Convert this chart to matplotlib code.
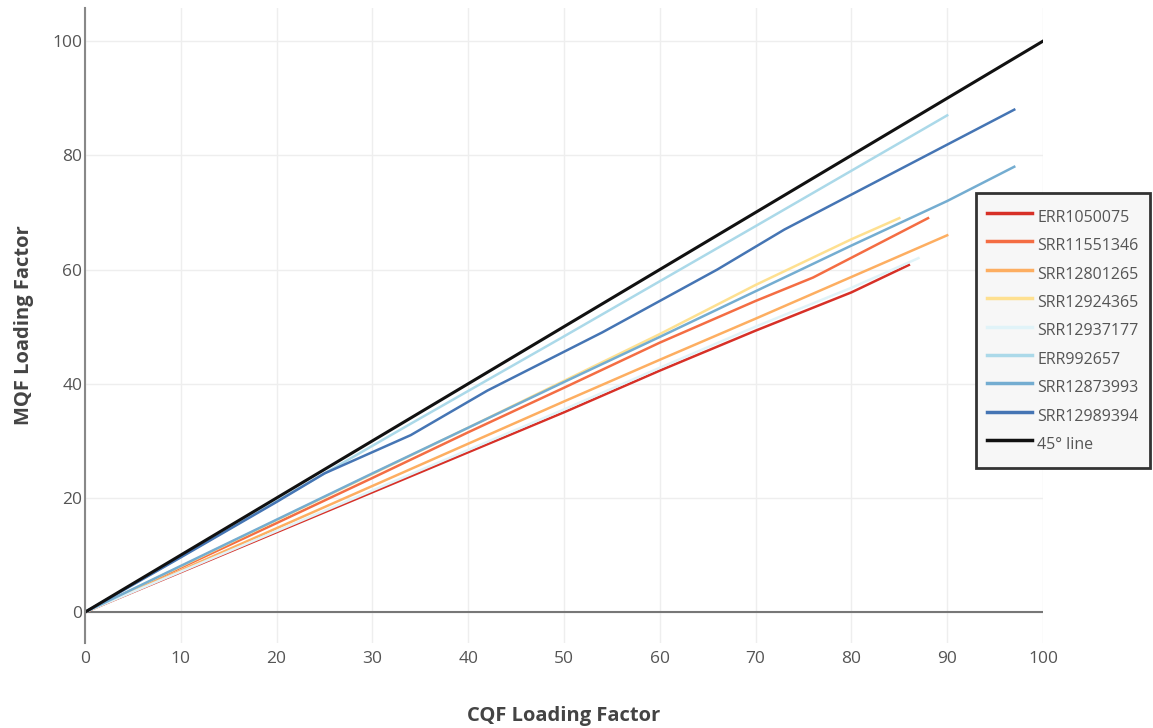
import numpy as np
import matplotlib.pyplot as plt

# =========================
# Data: MQF vs CQF loading factor per run
# =========================
names = ["ERR1050075", "SRR11551346", "SRR12801265", "SRR12924365",
         "SRR12937177", "ERR992657", "SRR12873993", "SRR12989394"]
colors = ["#d73027", "#f46d43", "#fdae61", "#fee090",
          "#e0f3f8", "#abd9e9", "#74add1", "#4575b4"]

err1050075_x = [0, 10, 20, 30, 40, 50, 60, 70, 80, 86]
err1050075_y = [0, 7, 14, 21, 28, 35, 42.3, 49.3, 56, 60.8]

srr11551346_x = [0, 10, 20, 30, 40, 50, 60, 70, 76, 88]
srr11551346_y = [0, 7.8, 15.6, 23.5, 31.5, 39.3, 47.2, 54.5, 58.6, 69]

srr12801265_x = [0, 10, 20, 30, 40, 50, 60, 70, 80, 90]
srr12801265_y = [0, 7.3, 14.7, 22.1, 29.5, 36.9, 44.2, 51.4, 58.7, 66]

srr12924365_x = [0, 10, 20, 30, 40, 50, 60, 70, 80, 85]
srr12924365_y = [0, 8, 16.1, 24.2, 32.3, 40.5, 48.7, 57.3, 65.3, 69]

srr12937177_x = [0, 10, 20, 30, 40, 50, 60, 70, 80, 87]
srr12937177_y = [0, 7.1, 14.2, 21.3, 28.4, 35.5, 42.8, 50, 56.8, 62]

err992657_x = [0, 10, 25, 34, 50, 70, 90]
err992657_y = [0, 9.7, 24.3, 33, 48.3, 67.6, 87]

srr12873993_x = [0, 10, 20, 30, 40, 50, 60, 70, 80, 90, 97]
srr12873993_y = [0, 8.1, 16.2, 24.3, 32.3, 40.3, 48.2, 56.2, 64.2, 72, 78]

srr12989394_x = [0, 10, 20, 25, 34, 42, 54, 66, 73, 97]
srr12989394_y = [0, 9.6, 19.3, 24.3, 31, 38.8, 49, 60, 67, 88]

series_x = [err1050075_x, srr11551346_x, srr12801265_x, srr12924365_x,
            srr12937177_x, err992657_x, srr12873993_x, srr12989394_x]
series_y = [err1050075_y, srr11551346_y, srr12801265_y, srr12924365_y,
            srr12937177_y, err992657_y, srr12873993_y, srr12989394_y]

ref_x = [0, 100]
ref_y = [0, 100]

xticks = [0, 10, 20, 30, 40, 50, 60, 70, 80, 90, 100]
yticks = [0, 20, 40, 60, 80, 100]

# =========================
# Figure
# =========================
plt.rcParams["font.family"] = ["Open Sans", "DejaVu Sans"]

fig = plt.figure(figsize=(11.53, 7.28), dpi=100)
ax = fig.add_axes([85 / 1153, 85 / 728, 958 / 1153, 635 / 728])

for xs, ys, name, c in zip(series_x, series_y, names, colors):
    ax.plot(xs, ys, color=c, lw=1.8, label=name, solid_joinstyle="round")

ax.plot(ref_x, ref_y, color="#111111", lw=2.2, label="45° line")

ax.set_xlim(0, 100)
ax.set_ylim(-5.4, 105.8)
ax.set_xticks(xticks)
ax.set_yticks(yticks)

# plotly-like styling: light grid, zero line, left axis line only
ax.grid(True, color="#eeeeee", lw=1)
ax.set_axisbelow(True)
ax.axhline(0, color="#777777", lw=1.5, zorder=1)
for side in ["top", "right", "bottom"]:
    ax.spines[side].set_visible(False)
ax.spines["left"].set_color("#888888")
ax.spines["left"].set_linewidth(1.5)
ax.tick_params(axis="both", length=0, labelsize=12.5, labelcolor="#555555")
ax.tick_params(axis="x", pad=6)
ax.tick_params(axis="y", pad=2)

fig.text(564 / 1153, 1 - 716 / 728, "CQF Loading Factor", ha="center",
         va="center", fontsize=14.5, fontweight="bold", color="#444444")
fig.text(24 / 1153, 1 - 325 / 728, "MQF Loading Factor", ha="center",
         va="center", rotation=90, fontsize=14.5, fontweight="bold",
         color="#444444")

leg = fig.legend(loc="upper left", bbox_to_anchor=(976 / 1153, 1 - 193 / 728),
                 frameon=True, fancybox=False, fontsize=11.5,
                 handlelength=2.8, handleheight=2.05, handletextpad=0.35,
                 labelspacing=0.2, borderpad=0.7, borderaxespad=0)
frame = leg.get_frame()
frame.set_edgecolor("#333333")
frame.set_linewidth(2)
frame.set_facecolor("#f7f7f7")
frame.set_alpha(1)
for t in leg.get_texts():
    t.set_color("#555555")
for h in leg.get_lines():
    h.set_linewidth(2.5)

fig.savefig("out.png", dpi=100)
